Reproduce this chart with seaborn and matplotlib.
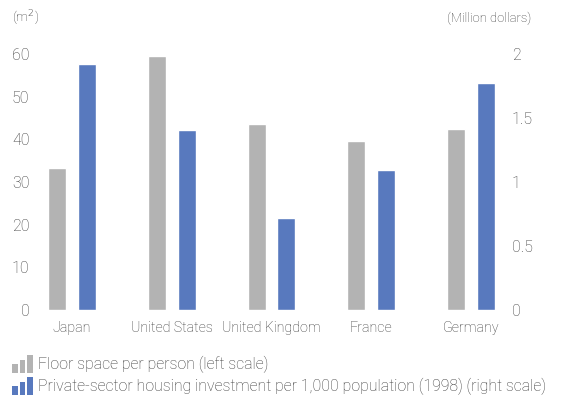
import matplotlib
matplotlib.use("Agg")
import matplotlib.pyplot as plt
from matplotlib.legend_handler import HandlerBase
from matplotlib.patches import Rectangle
import pandas as pd
import seaborn as sns

countries = ["Japan", "United States", "United Kingdom", "France", "Germany"]
floor_space = [33.3, 59.5, 43.6, 39.6, 42.5]          # m² per person (left scale)
housing_investment = [1.92, 1.41, 0.72, 1.09, 1.77]   # million dollars per 1,000 population (right scale)
left_ticks = [0, 10, 20, 30, 40, 50, 60]
right_ticks = [0, 0.5, 1, 1.5, 2]
right_tick_labels = ["0", "0.5", "1", "1.5", "2"]

series_floor = "Floor space per person (left scale)"
series_invest = "Private-sector housing investment per 1,000 population (1998) (right scale)"
GRAY = "#b3b3b3"
BLUE = "#5879be"
TEXT = "#3a3a3a"

sns.set_theme(style="white")
plt.rcParams["font.family"] = ["Roboto", "DejaVu Sans"]
plt.rcParams["font.weight"] = "light"

df_floor = pd.DataFrame({"country": countries, "value": floor_space, "series": series_floor})
df_invest = pd.DataFrame({"country": countries, "value": housing_investment, "series": series_invest})
palette = {series_floor: GRAY, series_invest: BLUE}
hue_order = [series_floor, series_invest]

fig = plt.figure(figsize=(5.61, 4.0), dpi=100)
ax1 = fig.add_axes([35 / 561, 1 - 310 / 400, 470 / 561, 256 / 400])
ax2 = ax1.twinx()

sns.barplot(data=df_floor, x="country", y="value", hue="series", hue_order=hue_order,
            palette=palette, order=countries, width=0.6, gap=0.4, dodge=True,
            legend=False, ax=ax1, saturation=1)
sns.barplot(data=df_invest, x="country", y="value", hue="series", hue_order=hue_order,
            palette=palette, order=countries, width=0.6, gap=0.4, dodge=True,
            legend=False, ax=ax2, saturation=1)

ax1.set_ylim(0, 60)
ax2.set_ylim(0, 2)
ax1.set_xlim(-0.371, 4.341)
ax1.set_yticks(left_ticks)
ax2.set_yticks(right_ticks)
ax2.set_yticklabels(right_tick_labels)
for ax in (ax1, ax2):
    ax.set_xlabel("")
    ax.set_ylabel("")
    for s in ax.spines.values():
        s.set_visible(False)
    ax.grid(False)
ax1.tick_params(axis="y", length=0, pad=4, labelsize=11.5, labelcolor=TEXT)
ax2.tick_params(axis="y", length=0, pad=5, labelsize=11.5, labelcolor=TEXT)
ax1.tick_params(axis="x", length=0, pad=8, labelsize=10.3, labelcolor=TEXT)
for lbl in ax2.get_yticklabels():
    lbl.set_horizontalalignment("left")

fig.text(12 / 561, 1 - 18 / 400, "(m$^2$)", fontsize=9.5, color=TEXT, va="center", ha="left")
fig.text(531 / 561, 1 - 18 / 400, "(Million dollars)", fontsize=9.4, color=TEXT, va="center", ha="right")


class MiniBarsHandler(HandlerBase):
    """Legend key drawn as three small rising bars."""

    def create_artists(self, legend, orig_handle, xdescent, ydescent, width, height, fontsize, trans):
        color = orig_handle.get_facecolor()
        bw = width / 3.6
        heights = [0.5, 0.75, 1.0]
        full = height * 1.35
        artists = []
        for k, h in enumerate(heights):
            r = Rectangle((-xdescent + k * (width - bw) / 2, -ydescent - height * 0.2), bw, full * h,
                          facecolor=color, edgecolor="none", transform=trans)
            artists.append(r)
        return artists


handles = [Rectangle((0, 0), 1, 1, facecolor=GRAY), Rectangle((0, 0), 1, 1, facecolor=BLUE)]
leg = fig.legend(handles, hue_order, loc="upper left", bbox_to_anchor=(9 / 561, 1 - 353 / 400),
                 frameon=False, fontsize=11.4, handlelength=1.3, handleheight=0.9, handletextpad=0.35,
                 labelspacing=0.3, borderaxespad=0, borderpad=0.2,
                 handler_map={Rectangle: MiniBarsHandler()})
for t in leg.get_texts():
    t.set_color(TEXT)

fig.savefig("out.png", dpi=100)
